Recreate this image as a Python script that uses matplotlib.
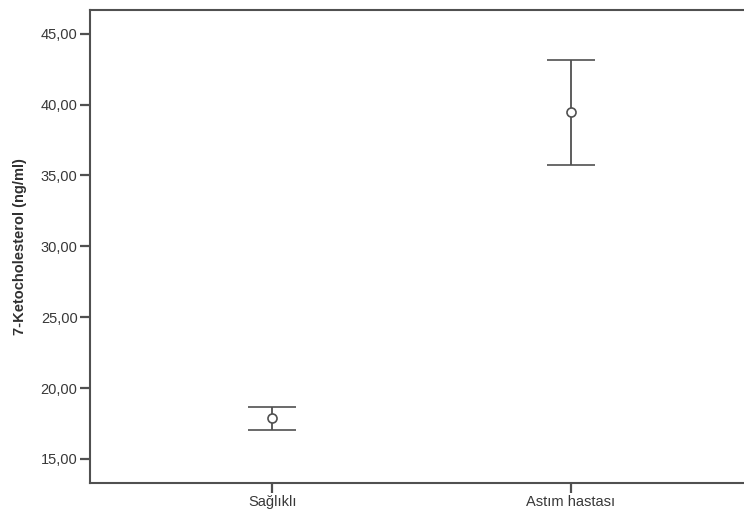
import matplotlib
matplotlib.use('Agg')
import matplotlib.pyplot as plt

# Group labels and error-bar values (mean with lower/upper CI bounds)
groups = ['Sağlıklı', 'Astım hastası']
means = [17.90, 39.46]
lower = [17.07, 35.72]
upper = [18.65, 43.15]
yticks = [15, 20, 25, 30, 35, 40, 45]

plt.rcParams['font.family'] = ['Liberation Sans', 'DejaVu Sans']
grey = '#505050'

fig = plt.figure(figsize=(7.44, 5.14), dpi=100)
ax = fig.add_axes([0.121, 0.061, 0.879, 0.9195])

x = list(range(len(groups)))
yerr = [[m - l for m, l in zip(means, lower)], [u - m for m, u in zip(means, upper)]]
ax.errorbar(x, means, yerr=yerr, fmt='o', mfc='white', mec=grey, mew=1.2, ms=6.5,
            ecolor=grey, elinewidth=1.3, capsize=17, capthick=1.3)

ax.set_xlim(-0.61, 1.58)
ax.set_ylim(13.33, 46.67)
ax.set_xticks(x)
ax.set_xticklabels(groups)
ax.set_yticks(yticks)
ax.set_yticklabels([f'{v:.2f}'.replace('.', ',') for v in yticks])

for side in ['left', 'bottom', 'top']:
    ax.spines[side].set_color(grey)
    ax.spines[side].set_linewidth(1.5)
ax.spines['right'].set_visible(False)

ax.tick_params(axis='both', colors=grey, width=1.6, length=7, labelsize=10.5,
               labelcolor='#383838', pad=2)
ax.set_ylabel('7-Ketocholesterol (ng/ml)', fontsize=10.5, fontweight='bold',
              color='#303030', labelpad=10)

fig.savefig('out.png', dpi=100)
